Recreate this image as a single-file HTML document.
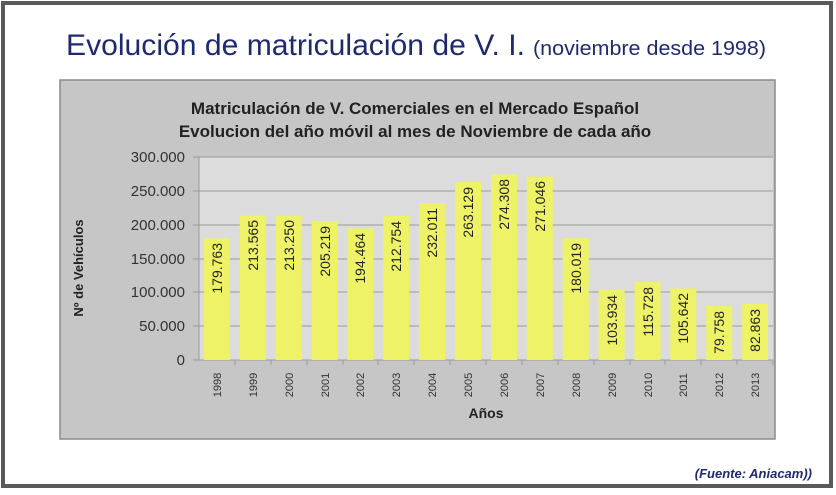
<!DOCTYPE html>
<html><head><meta charset="utf-8"><style>
body{margin:0;width:836px;height:490px;background:#fff;overflow:hidden;font-family:"Liberation Sans",sans-serif}
</style></head><body>
<svg width="836" height="490" xmlns="http://www.w3.org/2000/svg" font-family="Liberation Sans, sans-serif">
<rect x="3" y="3" width="828" height="483" fill="#fff" stroke="#5a5a5a" stroke-width="4"/>
<text x="66" y="55" fill="#1f2a6e" font-size="30" textLength="459" lengthAdjust="spacingAndGlyphs">Evolución de matriculación de V. I.</text>
<text x="533" y="55" fill="#1f2a6e" font-size="20" textLength="233" lengthAdjust="spacingAndGlyphs">(noviembre desde 1998)</text>
<rect x="60" y="80" width="715" height="359" fill="#c6c6c6" stroke="#8a8a8a" stroke-width="1.5"/>
<text x="415" y="114" text-anchor="middle" font-size="17" font-weight="bold" fill="#222">Matriculación de V. Comerciales en el Mercado Español</text>
<text x="415" y="137" text-anchor="middle" font-size="17" font-weight="bold" fill="#222">Evolucion del año móvil al mes de Noviembre de cada año</text>
<rect x="199" y="157" width="574" height="203" fill="#dcdcdc"/>
<g stroke="#9a9a9a" stroke-width="1">
<line x1="193" y1="157" x2="773" y2="157"/><line x1="193" y1="191" x2="773" y2="191"/>
<line x1="193" y1="225" x2="773" y2="225"/><line x1="193" y1="259" x2="773" y2="259"/>
<line x1="193" y1="292" x2="773" y2="292"/><line x1="193" y1="326" x2="773" y2="326"/>
<line x1="193" y1="360" x2="773" y2="360"/><line x1="199" y1="157" x2="199" y2="360"/>
<line x1="235" y1="360" x2="235" y2="365"/><line x1="271" y1="360" x2="271" y2="365"/><line x1="307" y1="360" x2="307" y2="365"/>
<line x1="343" y1="360" x2="343" y2="365"/><line x1="378" y1="360" x2="378" y2="365"/><line x1="414" y1="360" x2="414" y2="365"/>
<line x1="450" y1="360" x2="450" y2="365"/><line x1="486" y1="360" x2="486" y2="365"/><line x1="522" y1="360" x2="522" y2="365"/>
<line x1="558" y1="360" x2="558" y2="365"/><line x1="594" y1="360" x2="594" y2="365"/><line x1="630" y1="360" x2="630" y2="365"/>
<line x1="665" y1="360" x2="665" y2="365"/><line x1="701" y1="360" x2="701" y2="365"/><line x1="737" y1="360" x2="737" y2="365"/>
<line x1="773" y1="360" x2="773" y2="365"/>
</g>
<g font-size="15" fill="#333" text-anchor="end">
<text x="185" y="162">300.000</text><text x="185" y="196">250.000</text><text x="185" y="230">200.000</text>
<text x="185" y="264">150.000</text><text x="185" y="297">100.000</text><text x="185" y="331">50.000</text><text x="185" y="365">0</text>
</g>
<text transform="translate(83,268) rotate(-90)" text-anchor="middle" font-size="13" font-weight="bold" fill="#222">Nº de Vehículos</text>
<text x="486" y="418" text-anchor="middle" font-size="14" font-weight="bold" fill="#222">Años</text>
<g fill="#eef266">
<rect x="203.9" y="238.4" width="26" height="121.6"/>
<rect x="239.8" y="215.5" width="26" height="144.5"/>
<rect x="275.7" y="215.7" width="26" height="144.3"/>
<rect x="311.6" y="221.1" width="26" height="138.9"/>
<rect x="347.4" y="228.4" width="26" height="131.6"/>
<rect x="383.3" y="216.0" width="26" height="144.0"/>
<rect x="419.2" y="203.0" width="26" height="157.0"/>
<rect x="455.1" y="182.0" width="26" height="178.0"/>
<rect x="491.0" y="174.4" width="26" height="185.6"/>
<rect x="526.8" y="176.6" width="26" height="183.4"/>
<rect x="562.7" y="238.2" width="26" height="121.8"/>
<rect x="598.6" y="289.7" width="26" height="70.3"/>
<rect x="634.5" y="281.7" width="26" height="78.3"/>
<rect x="670.4" y="288.5" width="26" height="71.5"/>
<rect x="706.2" y="306.0" width="26" height="54.0"/>
<rect x="742.1" y="303.9" width="26" height="56.1"/>
</g>
<g font-size="14" fill="#222" text-anchor="end">
<text transform="translate(222,243) rotate(-90)">179.763</text>
<text transform="translate(258,220) rotate(-90)">213.565</text>
<text transform="translate(294,220) rotate(-90)">213.250</text>
<text transform="translate(330,226) rotate(-90)">205.219</text>
<text transform="translate(365,233) rotate(-90)">194.464</text>
<text transform="translate(401,221) rotate(-90)">212.754</text>
<text transform="translate(437,208) rotate(-90)">232.011</text>
<text transform="translate(473,187) rotate(-90)">263.129</text>
<text transform="translate(509,179) rotate(-90)">274.308</text>
<text transform="translate(545,181) rotate(-90)">271.046</text>
<text transform="translate(581,243) rotate(-90)">180.019</text>
<text transform="translate(617,295) rotate(-90)">103.934</text>
<text transform="translate(653,287) rotate(-90)">115.728</text>
<text transform="translate(688,293) rotate(-90)">105.642</text>
<text transform="translate(724,311) rotate(-90)">79.758</text>
<text transform="translate(760,309) rotate(-90)">82.863</text>
</g>
<g font-size="11" fill="#333" text-anchor="middle">
<text transform="translate(221,385) rotate(-90)">1998</text>
<text transform="translate(257,385) rotate(-90)">1999</text>
<text transform="translate(293,385) rotate(-90)">2000</text>
<text transform="translate(329,385) rotate(-90)">2001</text>
<text transform="translate(364,385) rotate(-90)">2002</text>
<text transform="translate(400,385) rotate(-90)">2003</text>
<text transform="translate(436,385) rotate(-90)">2004</text>
<text transform="translate(472,385) rotate(-90)">2005</text>
<text transform="translate(508,385) rotate(-90)">2006</text>
<text transform="translate(544,385) rotate(-90)">2007</text>
<text transform="translate(580,385) rotate(-90)">2008</text>
<text transform="translate(616,385) rotate(-90)">2009</text>
<text transform="translate(652,385) rotate(-90)">2010</text>
<text transform="translate(687,385) rotate(-90)">2011</text>
<text transform="translate(723,385) rotate(-90)">2012</text>
<text transform="translate(759,385) rotate(-90)">2013</text>
</g>
<text x="812" y="478" text-anchor="end" font-size="13" font-style="italic" font-weight="bold" fill="#1f2a6e">(Fuente: Aniacam))</text>
</svg>
</body></html>
